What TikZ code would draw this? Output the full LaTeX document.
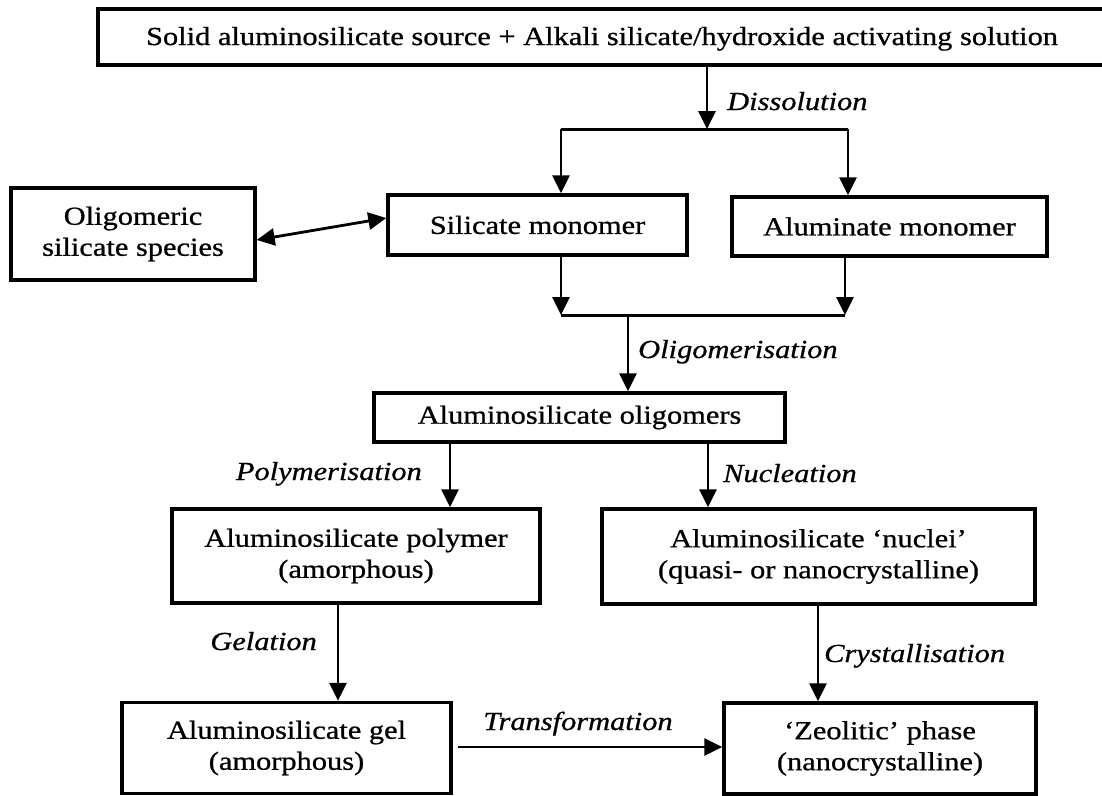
\documentclass[tikz,border=0pt]{standalone}
\usepackage{fontspec}
\setmainfont{Liberation Serif}[FakeStretch=1.17,FakeBold=0.8]
\usetikzlibrary{arrows.meta}
\begin{document}
\begin{tikzpicture}[x=1pt,y=-1pt,
  box/.style={draw, line width=3.4pt, inner sep=0pt, align=center,
    font=\fontsize{26}{31}\selectfont},
  lbl/.style={inner sep=0pt, font=\itshape\fontsize{26}{31}\selectfont},
  tip/.tip={Triangle[length=18pt,width=17pt]},
  arr/.style={line width=2.8pt, -tip},
  darr/.style={line width=2.8pt, tip-tip},
  ln/.style={line width=3pt}
]
\useasboundingbox (0,0) rectangle (1102,795);

% boxes
\node[box, minimum width=1008pt, minimum height=56pt, text depth=2pt] (top) at (602,37)
  {Solid aluminosilicate source + Alkali silicate/hydroxide activating solution};
\node[box, minimum width=244pt, minimum height=92pt] (spec) at (133,234)
  {Oligomeric\\silicate species};
\node[box, minimum width=299pt, minimum height=60pt] (sil) at (537.5,225)
  {Silicate monomer};
\node[box, minimum width=315pt, minimum height=59pt] (alu) at (889.5,226.5)
  {Aluminate monomer};
\node[box, minimum width=411pt, minimum height=49pt] (olig) at (579.5,417.5)
  {Aluminosilicate oligomers};
\node[box, minimum width=368pt, minimum height=94pt] (poly) at (356,556)
  {Aluminosilicate polymer\\(amorphous)};
\node[box, minimum width=433pt, minimum height=95pt] (nuc) at (818.5,556.5)
  {Aluminosilicate `nuclei'\\(quasi- or nanocrystalline)};
\node[box, minimum width=329pt, minimum height=91pt] (gel) at (286.5,748)
  {Aluminosilicate gel\\(amorphous)};
\node[box, minimum width=312pt, minimum height=91pt] (zeo) at (880,748.5)
  {`Zeolitic' phase\\(nanocrystalline)};

% dissolution split
\coordinate (dj) at (707,129);
\coordinate (dl) at (561,129);
\coordinate (dr) at (848,129);
\draw[arr] (top.south -| dj) -- (dj);
\draw[ln] (dl) -- (dr);
\draw[arr] (dl) -- (dl |- sil.north);
\draw[arr] (dr) -- (dr |- alu.north);
\node[lbl, anchor=base west] (ldis) at (727,110) {Dissolution};

% exchange with oligomeric species
\draw[darr] ([yshift=-6pt]spec.east) -- ([yshift=7pt]sil.west);

% merge to oligomers
\coordinate (ml) at (561,315);
\coordinate (mr) at (845,315);
\coordinate (mj) at (628,315);
\draw[arr] (sil.south -| ml) -- (ml);
\draw[arr] (alu.south -| mr) -- (mr);
\draw[ln] (ml) -- (mr);
\draw[arr] (mj) -- (mj |- olig.north);
\node[lbl, anchor=base west] (loli) at (638,358) {Oligomerisation};

% polymerisation / nucleation
\coordinate (xp) at (450,0);
\coordinate (xn) at (708,0);
\draw[arr] (olig.south -| xp) -- (poly.north -| xp);
\draw[arr] (olig.south -| xn) -- (nuc.north -| xn);
\node[lbl, anchor=base east] (lpol) at (422,480) {Polymerisation};
\node[lbl, anchor=base west] (lnuc) at (723,482) {Nucleation};

% gelation / crystallisation
\coordinate (xg) at (338,0);
\coordinate (xc) at (818,0);
\draw[arr] (poly.south -| xg) -- (gel.north -| xg);
\draw[arr] (nuc.south -| xc) -- (zeo.north -| xc);
\node[lbl, anchor=base east] (lgel) at (317,650) {Gelation};
\node[lbl, anchor=base west] (lcry) at (824,662) {Crystallisation};

% transformation
\draw[arr] ([xshift=5pt,yshift=1pt]gel.east) -- ([yshift=1pt]gel.east -| zeo.west);
\node[lbl, anchor=base] (ltra) at (578,730) {Transformation};
\end{tikzpicture}
\end{document}
